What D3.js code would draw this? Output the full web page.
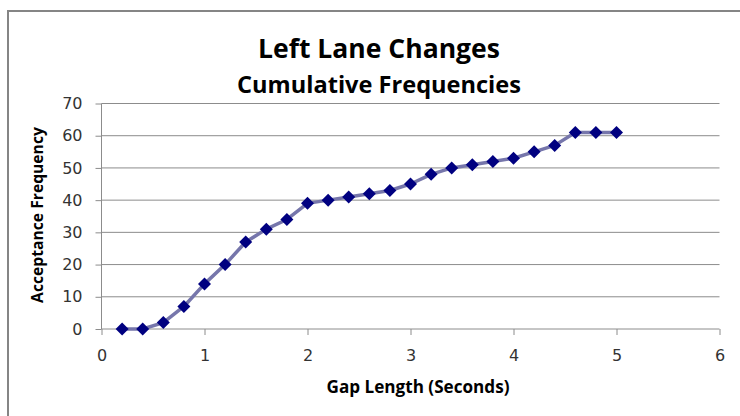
<!DOCTYPE html>
<html>
<head>
<meta charset="utf-8">
<script src="https://cdnjs.cloudflare.com/ajax/libs/d3/7.8.5/d3.min.js"></script>
<style>
  body { margin: 0; background: #fff; }
  .title { font-family: "Open Sans", Calibri, sans-serif; font-weight: bold; fill: #000; }
</style>
</head>
<body>
<script>
// gap length (s) and cumulative acceptance frequency
var gapLength = [0.2, 0.4, 0.6, 0.8, 1.0, 1.2, 1.4, 1.6, 1.8, 2.0, 2.2, 2.4, 2.6,
                 2.8, 3.0, 3.2, 3.4, 3.6, 3.8, 4.0, 4.2, 4.4, 4.6, 4.8, 5.0];
var cumFreq = [0, 0, 2, 7, 14, 20, 27, 31, 34, 39, 40, 41, 42,
               43, 45, 48, 50, 51, 52, 53, 55, 57, 61, 61, 61];
var xTicks = [0, 1, 2, 3, 4, 5, 6];
var yTicks = [0, 10, 20, 30, 40, 50, 60, 70];

var W = 740, H = 416;
var svg = d3.select("body").append("svg").attr("width", W).attr("height", H);

// chart frame (runs off the right/bottom edge)
svg.append("rect")
    .attr("x", 8).attr("y", 11)
    .attr("width", W).attr("height", H)
    .attr("fill", "none").attr("stroke", "#858585").attr("stroke-width", 2);

var x = d3.scaleLinear().domain([0, 6]).range([101.5, 719.5]);
var y = d3.scaleLinear().domain([0, 70]).range([329, 103.5]);

// gridlines
svg.append("g").selectAll("line")
    .data(yTicks.slice(1))
    .enter().append("line")
    .attr("x1", x(0)).attr("x2", x(6))
    .attr("y1", d => y(d)).attr("y2", d => y(d))
    .attr("stroke", "#8c8c8c").attr("stroke-width", 1);

var yAxis = svg.append("g")
    .attr("transform", "translate(" + x(0) + ",0)")
    .call(d3.axisLeft(y).tickValues(yTicks).tickSize(6).tickPadding(13));
var xAxis = svg.append("g")
    .attr("transform", "translate(0," + y(0) + ")")
    .call(d3.axisBottom(x).tickValues(xTicks).tickFormat(d3.format("d"))
        .tickSize(6).tickPadding(15));
[xAxis, yAxis].forEach(function (a) {
    a.select(".domain").attr("stroke", "#8c8c8c");
    a.selectAll(".tick line").attr("stroke", "#8c8c8c");
    a.selectAll(".tick text")
        .attr("font-family", "'DejaVu Sans', Verdana, sans-serif")
        .attr("font-size", 16)
        .attr("fill", "#333");
});
yAxis.select(".domain").attr("d", "M0," + y(0) + "V" + y(70));
xAxis.select(".domain").attr("d", "M" + x(0) + ",0H" + x(6));

var pts = gapLength.map((g, i) => [g, cumFreq[i]]);

svg.append("path")
    .datum(pts)
    .attr("fill", "none")
    .attr("stroke", "#7676ab")
    .attr("stroke-width", 3.5)
    .attr("stroke-linejoin", "round")
    .attr("d", d3.line().x(d => x(d[0])).y(d => y(d[1])));

svg.append("g").selectAll("path")
    .data(pts)
    .enter().append("path")
    .attr("transform", d => "translate(" + x(d[0]) + "," + y(d[1]) + ")")
    .attr("d", "M0,-6.5L6.5,0L0,6.5L-6.5,0Z")
    .attr("fill", "#000080");

// scale a label's font so it spans the wanted width
function fit(t, width) {
    var fs = +t.attr("font-size");
    t.attr("font-size", fs * width / t.node().getComputedTextLength());
    return t;
}

// titles
fit(svg.append("text").attr("class", "title")
    .attr("x", 379).attr("y", 58).attr("text-anchor", "middle")
    .attr("font-size", 24).text("Left Lane Changes"), 242);
fit(svg.append("text").attr("class", "title")
    .attr("x", 379).attr("y", 93).attr("text-anchor", "middle")
    .attr("font-size", 20).text("Cumulative Frequencies"), 284);
fit(svg.append("text").attr("class", "title")
    .attr("x", 418).attr("y", 393).attr("text-anchor", "middle")
    .attr("font-size", 15).text("Gap Length (Seconds)"), 183);
fit(svg.append("text").attr("class", "title")
    .attr("transform", "translate(43,215) rotate(-90)")
    .attr("text-anchor", "middle")
    .attr("font-size", 15).text("Acceptance Frequency"), 176);
</script>
</body>
</html>
